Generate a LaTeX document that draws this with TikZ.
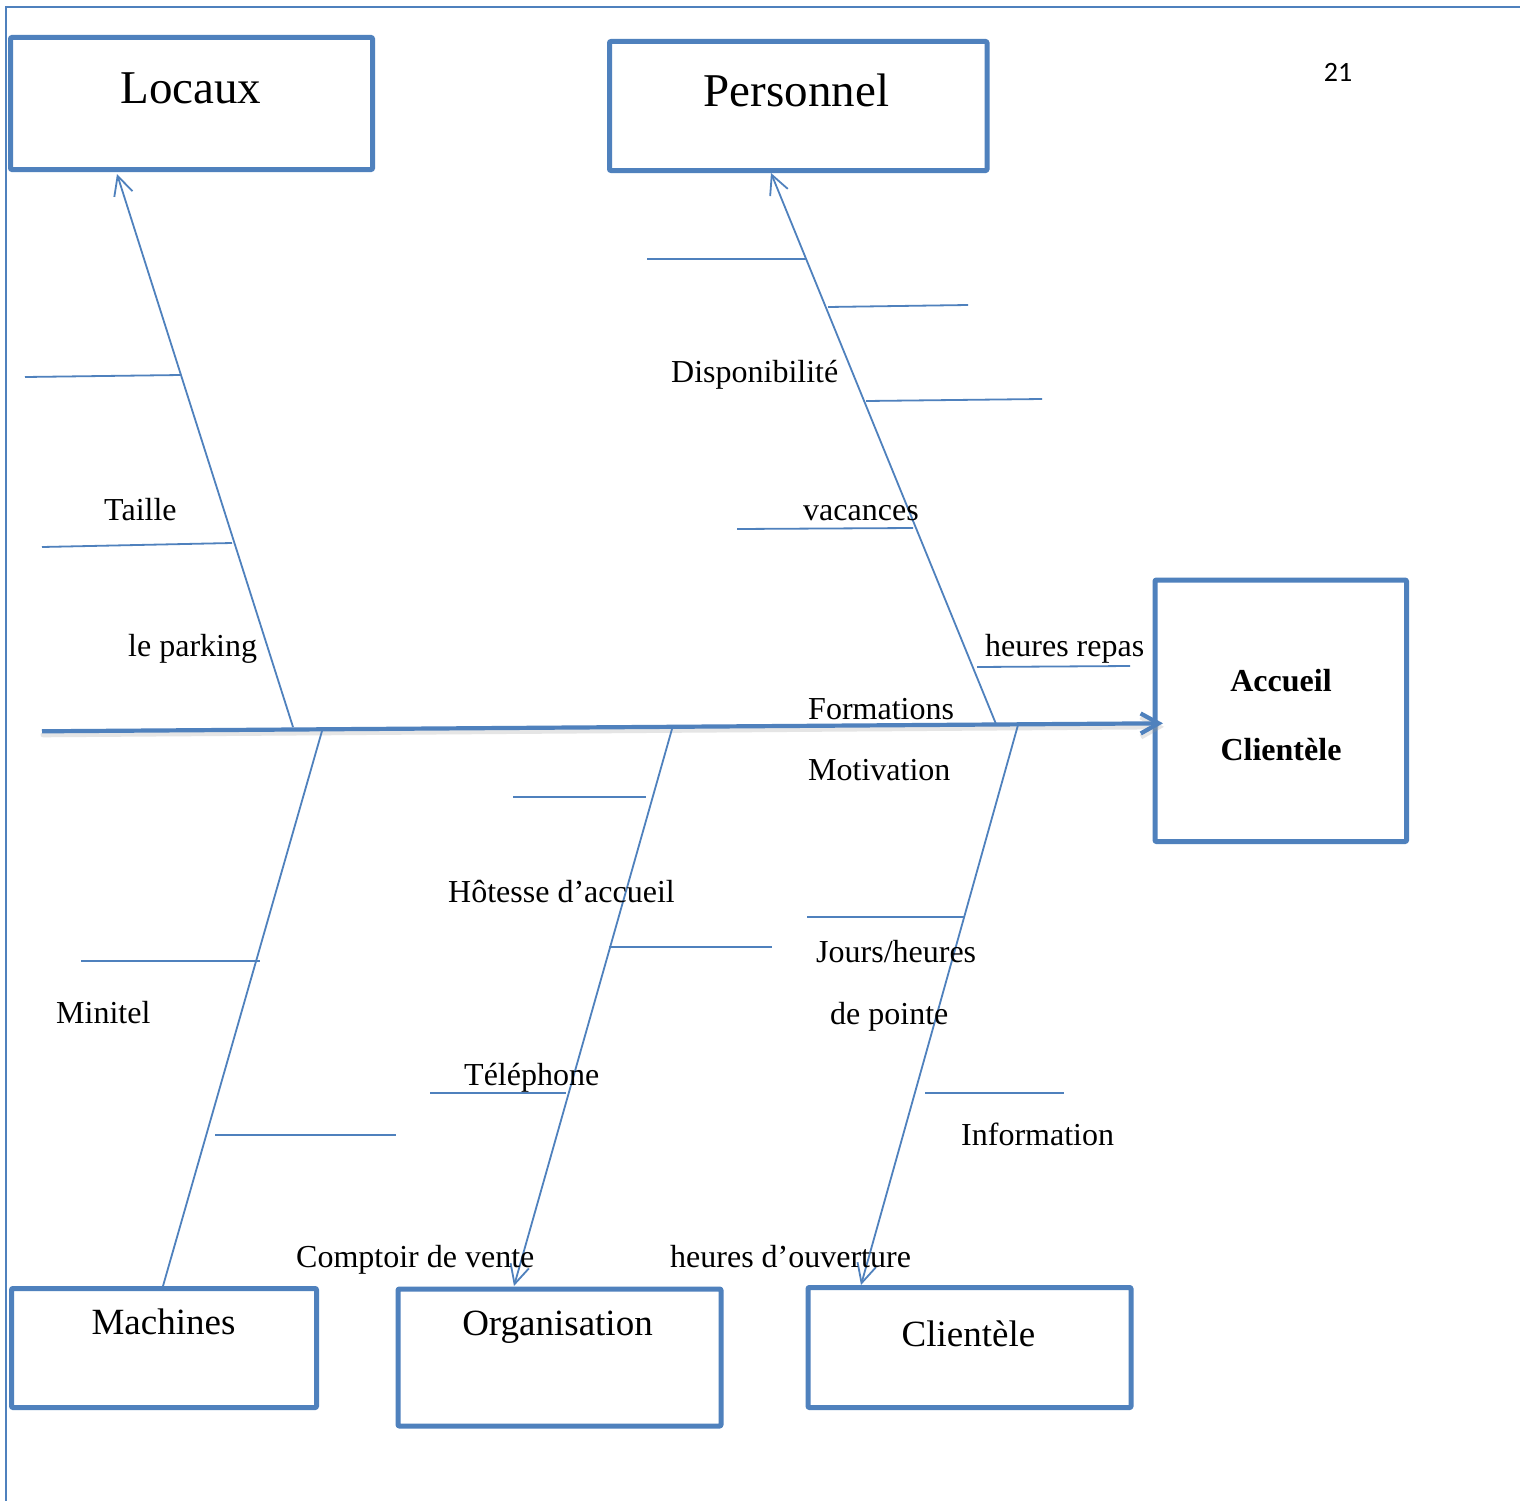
\documentclass[tikz,border=0pt]{standalone}
\usepackage{fontspec}
\setmainfont{Liberation Serif}
\newfontfamily\numfont{Carlito}
\usetikzlibrary{arrows.meta}
\definecolor{ofblue}{RGB}{79,129,189}
\begin{document}
\begin{tikzpicture}[x={(1pt,0)},y={(0,-1pt)},
  box/.style={draw=ofblue,line width=5pt,rectangle,inner sep=0pt,line join=round,rounded corners=1pt},
  bone/.style={draw=ofblue,line width=1.8pt},
  tip/.style={-{Straight Barb[length=19pt,width=19pt]}},
  sub/.style={draw=ofblue,line width=1.8pt},
  lab/.style={anchor=base west,inner sep=0pt,font=\fontsize{32}{38}\selectfont},
  big/.style={anchor=base,inner sep=0pt,font=\fontsize{47}{56}\selectfont},
  mid/.style={anchor=base,inner sep=0pt,font=\fontsize{37}{44}\selectfont},
  bld/.style={anchor=base,inner sep=0pt,font=\fontsize{32}{38}\selectfont\bfseries}]
\useasboundingbox (0,0) rectangle (1520,1501);
\fill[white] (0,0) rectangle (1520,1501);
% page border
\draw[ofblue,line width=2pt] (6,1501) -- (6,7) -- (1520,7);
% boxes
\node[box,minimum width=362pt,minimum height=132pt] (Locaux) at (191.5,103.5) {};
\node[box,minimum width=377.5pt,minimum height=129pt] (Personnel) at (798.25,106) {};
\node[box,minimum width=251.5pt,minimum height=261.5pt] (Accueil) at (1280.75,710.75) {};
\node[box,minimum width=305pt,minimum height=119pt] (Machines) at (164,1348) {};
\node[box,minimum width=323pt,minimum height=137pt] (Organisation) at (559.5,1357.5) {};
\node[box,minimum width=323pt,minimum height=120pt] (Clientele) at (969.5,1347.5) {};
% box titles
\node[big] (tLocaux) at (191,103.3) {Locaux};
\node[big] (tPersonnel) at (796.5,106.7) {Personnel};
\node[bld] (tAccueil) at (1281,691) {Accueil};
\node[bld] (tAccueilB) at (1281,760) {Clientèle};
\node[mid] (tMachines) at (163.5,1334) {Machines};
\node[mid] (tOrganisation) at (557.5,1335) {Organisation};
\node[mid] (tClientele) at (968.5,1346) {Clientèle};
\node[anchor=base,inner sep=0pt,font=\numfont\fontsize{28}{33}\selectfont] (page) at (1338,81.7) {21};
% spine coordinates
\coordinate (tail) at (42,731.3);
\coordinate (head) at (1163,723.3);
\coordinate (sLoc) at (293,727);
\coordinate (sMac) at (322,731);
\coordinate (sOrg) at (672,729);
\coordinate (sPer) at (996,724);
\coordinate (sCli) at (1018,725);
\coordinate (aLoc) at (117,174);
\coordinate (aPer) at (771,173);
\coordinate (aMac) at (163,1286);
\coordinate (aOrg) at (514,1286);
\coordinate (aCli) at (861,1285);
% spine shadow
\draw[black!40,opacity=0.25,line width=5pt,line cap=round,-{Straight Barb[length=18pt,width=20pt]}] ([shift={(1,3.5)}]tail) -- ([shift={(1,3.5)}]head);
% spine
\draw[ofblue,line width=4.2pt,-{Straight Barb[length=18pt,width=20pt]}] (tail) -- (head);
% bones
\draw[bone,tip] (sLoc) -- (aLoc);
\draw[bone,tip] (sPer) -- (aPer);
\draw[bone] (sMac) -- (aMac);
\draw[bone,tip] (sOrg) -- (aOrg);
\draw[bone,tip] (sCli) -- (aCli);
% sub-bones
\draw[sub] (25,377) -- (181,375);
\draw[sub] (42,547) -- (232,543);
\draw[sub] (647,259) -- (806,259);
\draw[sub] (828,307) -- (968,305);
\draw[sub] (866,401) -- (1042,399);
\draw[sub] (737,529) -- (913,528);
\draw[sub] (977,667) -- (1130,666);
\draw[sub] (513,797) -- (646,797);
\draw[sub] (807,917) -- (964,917);
\draw[sub] (609,947) -- (772,947);
\draw[sub] (81,961) -- (260,961);
\draw[sub] (925,1093) -- (1064,1093);
\draw[sub] (430,1093) -- (566,1093);
\draw[sub] (215,1135) -- (396,1135);
% labels
\node[lab] (l1) at (671,382.3) {Disponibilité};
\node[lab] (l2) at (104,520) {Taille};
\node[lab] (l3) at (803,520) {vacances};
\node[lab] (l4) at (128,656.7) {le parking};
\node[lab] (l5) at (985,656.7) {heures repas};
\node[lab] (l6) at (808,719) {Formations};
\node[lab] (l7) at (808,780) {Motivation};
\node[lab] (l8) at (448,902.3) {Hôtesse d’accueil};
\node[lab] (l9) at (816,962) {Jours/heures};
\node[lab] (l10) at (830,1024) {de pointe};
\node[lab] (l11) at (56,1023.3) {Minitel};
\node[lab] (l12) at (464,1085) {Téléphone};
\node[lab] (l13) at (961,1145) {Information};
\node[lab] (l14) at (296,1267) {Comptoir de vente};
\node[lab] (l15) at (670,1267) {heures d’ouverture};
\end{tikzpicture}
\end{document}
